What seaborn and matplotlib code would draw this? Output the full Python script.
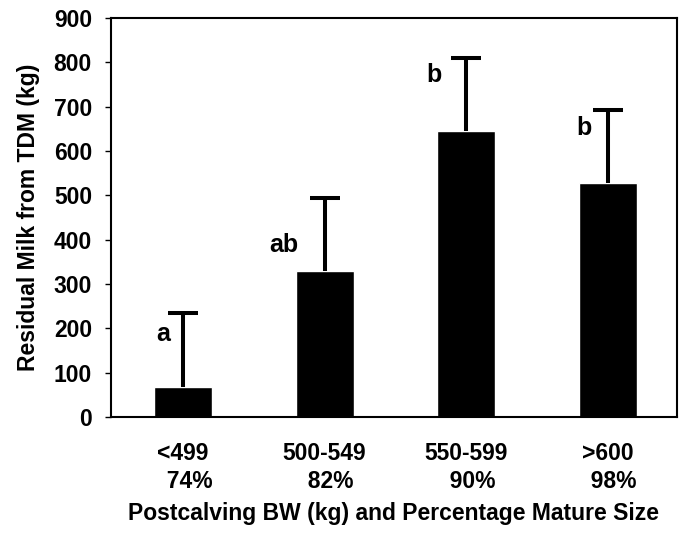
import matplotlib
matplotlib.use("Agg")
import matplotlib.pyplot as plt
import seaborn as sns
import pandas as pd

# data
weight_groups = ["<499", "500-549", "550-599", ">600"]
mature_pct = ["74%", "82%", "90%", "98%"]
residual_milk = [68, 329, 645, 527]
upper_err = [167, 166, 165, 166]
letters = ["a", "ab", "b", "b"]
letter_y = [187, 388, 771, 651]
letter_dx = [-0.14, -0.29, -0.225, -0.17]

sns.set_theme(style="white")
plt.rcParams['font.family'] = ['Liberation Sans', 'DejaVu Sans']
plt.rcParams['font.weight'] = 'bold'
plt.rcParams['text.color'] = 'black'
plt.rcParams['axes.labelcolor'] = 'black'
plt.rcParams['xtick.color'] = 'black'
plt.rcParams['ytick.color'] = 'black'

df = pd.DataFrame({"group": weight_groups, "milk": residual_milk})

fig, ax = plt.subplots(figsize=(6.81, 5.33), dpi=100)
fig.subplots_adjust(left=0.163, right=0.994, top=0.966, bottom=0.218)

sns.barplot(data=df, x="group", y="milk", color="black", saturation=1,
            width=0.41, ax=ax)
pos = list(range(len(weight_groups)))
eb = ax.errorbar(pos, residual_milk, yerr=[[0] * 4, upper_err], fmt="none",
                 ecolor="black", elinewidth=2.9, capsize=10.5, capthick=2.9)
# only the upper caps
eb[1][0].set_visible(False)

for p, lab, ly, dx in zip(pos, letters, letter_y, letter_dx):
    ax.text(p + dx, ly, lab, ha="center", va="center", fontsize=18,
            fontweight="bold", color="black")

ax.set_xlim(-0.51, 3.49)
ax.set_ylim(0, 900)
ax.set_yticks(range(0, 1000, 100))
ax.set_xticks(pos)
ax.set_xticklabels([f"{g}\n  {m}" for g, m in zip(weight_groups, mature_pct)],
                   fontsize=16.5, fontweight="bold", linespacing=1.27)
ax.tick_params(axis="y", left=True, direction="out", length=4.3, width=1,
               labelsize=16.5, pad=9.4)
ax.tick_params(axis="x", bottom=False, pad=12)
for lab in ax.get_yticklabels():
    lab.set_fontweight("bold")

for s in ax.spines.values():
    s.set_color("black")
    s.set_linewidth(1.5)

ax.set_ylabel("Residual Milk from TDM (kg)", fontsize=16.5, fontweight="bold",
              labelpad=10)
ax.set_xlabel("Postcalving BW (kg) and Percentage Mature Size", fontsize=16.5,
              fontweight="bold", labelpad=7)

fig.savefig("out.png", dpi=100)
